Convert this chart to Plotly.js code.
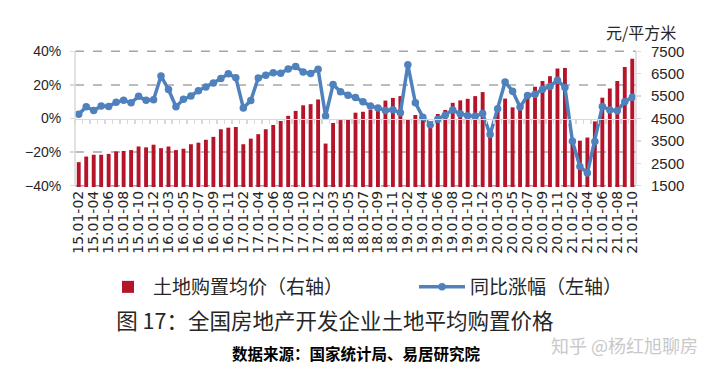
<!DOCTYPE html>
<html>
<head>
<meta charset="utf-8">
<script src="https://cdn.plot.ly/plotly-3.0.1.min.js"></script>
<style>html,body{margin:0;padding:0;background:#fff;}#chart{width:720px;height:372px;}</style>
</head>
<body>
<div id="chart"></div>
<script>
const categories = [
 "15.01-02","15.01-03","15.01-04","15.01-05","15.01-06","15.01-07","15.01-08","15.01-09","15.01-10","15.01-11","15.01-12",
 "16.01-02","16.01-03","16.01-04","16.01-05","16.01-06","16.01-07","16.01-08","16.01-09","16.01-10","16.01-11","16.01-12",
 "17.01-02","17.01-03","17.01-04","17.01-05","17.01-06","17.01-07","17.01-08","17.01-09","17.01-10","17.01-11","17.01-12",
 "18.01-02","18.01-03","18.01-04","18.01-05","18.01-06","18.01-07","18.01-08","18.01-09","18.01-10","18.01-11","18.01-12",
 "19.01-02","19.01-03","19.01-04","19.01-05","19.01-06","19.01-07","19.01-08","19.01-09","19.01-10","19.01-11","19.01-12",
 "20.01-02","20.01-03","20.01-04","20.01-05","20.01-06","20.01-07","20.01-08","20.01-09","20.01-10","20.01-11","20.01-12",
 "21.01-02","21.01-03","21.01-04","21.01-05","21.01-06","21.01-07","21.01-08","21.01-09","21.01-10"
];
// 土地购置均价（元/平方米，右轴）
const landPrice = [
 2550,2800,2880,2880,2920,3030,3050,3090,3250,3210,3330,
 3175,3250,3090,3150,3350,3420,3550,3680,4020,4090,4120,
 3350,3600,3800,4020,4210,4390,4620,4840,5090,5140,5350,
 3380,4300,4430,4470,4760,4800,4890,4920,5300,5420,5500,
 4470,4656,4450,4250,4700,4880,5200,5310,5380,5500,5680,
 4020,4910,5390,5000,5080,5540,5920,6170,6390,6730,6760,
 3470,3510,3650,4370,5430,5840,6170,6800,7170
];
// 同比涨幅（%，左轴）
const yoyGrowth = [
 2.6,7.0,4.8,7.5,7.2,9.7,10.8,9.4,13.2,10.8,11.2,
 25.3,17.3,7.0,11.4,13.4,16.5,18.7,21.2,23.8,26.6,24.3,
 6.3,10.7,24.1,25.8,27.3,27.0,29.5,30.9,27.7,26.8,29.3,
 1.5,20.2,15.9,13.9,12.5,10.0,7.4,6.3,4.8,5.2,3.4,
 32.0,9.4,0.8,-3.7,-0.5,2.0,5.0,2.8,1.7,1.3,3.0,
 -9.6,5.8,21.8,16.2,6.8,13.7,14.4,17.4,19.1,22.8,18.4,
 -13.5,-28.6,-32.5,-13.7,7.2,5.0,4.6,10.0,12.7
];
const tickLabels = categories.filter((c, i) => i % 2 === 0);
const leftTicks = [-40, -20, 0, 20, 40];
const leftTickText = ['\u221240%', '\u221220%', '0%', '20%', '40%'];
const gridTicks = [-40, -20, 20, 40];
const rightTicks = [1500, 2500, 3500, 4500, 5500, 6500, 7500];

const lightAxis = '#d9d9d9';
const latin = 'Liberation Sans, Arial, sans-serif';
const cjk = '"Noto Sans CJK SC", "Noto Sans", sans-serif';

// plot area in pixels (range is padded slightly so the ±40% lines sit inside)
const plotTop = 50, plotBottom = 187, plotLeft = 75, plotRight = 636;
const px = x => (x - plotLeft) / (plotRight - plotLeft);
const py = y => (plotBottom - y) / (plotBottom - plotTop);

const traces = [
  {
    type: 'bar', name: '土地购置均价（右轴）',
    x: categories, y: landPrice, xaxis: 'x', yaxis: 'y',
    marker: {color: '#B5152B'}, legend: 'legend'
  },
  {
    type: 'scatter', mode: 'lines+markers', name: '同比涨幅（左轴）',
    x: categories, y: yoyGrowth, xaxis: 'x', yaxis: 'y2',
    line: {color: '#4F81BD', width: 3.5},
    marker: {color: '#4F81BD', size: 7.5, symbol: 'circle'}, legend: 'legend2'
  },
  {
    type: 'scatter', mode: 'markers', x: categories, y: categories.map(() => null),
    xaxis: 'x2', yaxis: 'y2', showlegend: false, hoverinfo: 'skip'
  }
];

const gridShapes = gridTicks.map(v => ({
  type: 'line', xref: 'paper', yref: 'y2', x0: 0, x1: 1, y0: v, y1: v,
  line: {color: '#a6a6a6', width: 1.5, dash: 'dash'}, layer: 'below'
}));

const layout = {
  width: 720, height: 372,
  margin: {l: plotLeft, r: 720 - plotRight, t: plotTop, b: 372 - plotBottom, pad: 0},
  paper_bgcolor: '#fff', plot_bgcolor: '#fff',
  showlegend: true,
  bargap: 0.48,
  xaxis: {
    type: 'category', categoryorder: 'array', categoryarray: categories,
    range: [-0.5, categories.length - 0.5],
    tickmode: 'array', tickvals: tickLabels, ticktext: tickLabels,
    tickangle: -90, tickfont: {family: 'DejaVu Sans, sans-serif', size: 14, color: '#262626'},
    ticks: '', showline: false, showgrid: false, zeroline: false, automargin: false,
    fixedrange: true
  },
  xaxis2: {
    type: 'category', categoryorder: 'array', categoryarray: categories,
    range: [-0.5, categories.length - 0.5],
    overlaying: 'x', anchor: 'free', position: 0.5, side: 'bottom',
    tickmode: 'array', tickvals: categories, tickson: 'boundaries',
    ticks: 'outside', ticklen: 4, tickcolor: lightAxis, tickwidth: 1.5,
    showticklabels: false, showline: true, linecolor: lightAxis, linewidth: 1.5,
    showgrid: false, zeroline: false, automargin: false
  },
  yaxis: {
    side: 'right', range: [1440, 7560],
    tickmode: 'array', tickvals: rightTicks,
    tickfont: {family: latin, size: 15, color: '#262626'},
    ticks: 'outside', ticklen: 4, tickcolor: lightAxis, tickwidth: 1.5,
    showline: false,
    showgrid: false, zeroline: false, automargin: false, ticklabelstandoff: 7
  },
  yaxis2: {
    overlaying: 'y', side: 'left', range: [-40.8, 40.8],
    tickmode: 'array', tickvals: leftTicks, ticktext: leftTickText,
    tickfont: {family: latin, size: 14, color: '#262626'},
    ticks: 'outside', ticklen: 4, tickcolor: lightAxis, tickwidth: 1.5,
    showline: false, showgrid: false,
    zeroline: false, automargin: false, ticklabelstandoff: 6
  },
  legend: {
    orientation: 'h', x: px(103), xanchor: 'left', y: py(287), yanchor: 'middle',
    font: {family: cjk, size: 19, color: '#262626'},
    itemwidth: 40, bgcolor: 'rgba(0,0,0,0)'
  },
  legend2: {
    orientation: 'h', x: px(414), xanchor: 'left', y: py(287), yanchor: 'middle',
    font: {family: cjk, size: 19, color: '#262626'},
    itemwidth: 46, bgcolor: 'rgba(0,0,0,0)'
  },
  title: {
    text: '图 17：全国房地产开发企业土地平均购置价格',
    font: {family: cjk, size: 21.5, color: '#262626'},
    x: 0.465, xanchor: 'center', y: 1 - 321 / 372, yanchor: 'middle',
    xref: 'container', yref: 'container'
  },
  shapes: gridShapes.concat([
    {type: 'line', xref: 'paper', yref: 'y2', x0: 0, x1: 0, y0: -40, y1: 40,
     line: {color: lightAxis, width: 1.5}, layer: 'above'},
    {type: 'line', xref: 'paper', yref: 'y2', x0: 1, x1: 1, y0: -40, y1: 40,
     line: {color: lightAxis, width: 1.5}, layer: 'above'}
  ]),
  annotations: [
    {text: '元/平方米', xref: 'paper', yref: 'paper', x: px(641), y: py(32),
     xanchor: 'center', yanchor: 'middle', showarrow: false,
     font: {family: cjk, size: 16, color: '#262626'}},
    {text: '<b>数据来源：国家统计局、易居研究院</b>', xref: 'paper', yref: 'paper',
     x: px(356), y: py(353), xanchor: 'center', yanchor: 'middle', showarrow: false,
     font: {family: cjk, size: 15.5, color: '#000'}},
    {text: '知乎 @杨红旭聊房', xref: 'paper', yref: 'paper',
     x: px(624), y: py(345), xanchor: 'center', yanchor: 'middle', showarrow: false,
     font: {family: cjk, size: 18, color: '#c9c9c9'}}
  ]
};

Plotly.newPlot('chart', traces, layout, {staticPlot: true, displayModeBar: false});
</script>
</body>
</html>
